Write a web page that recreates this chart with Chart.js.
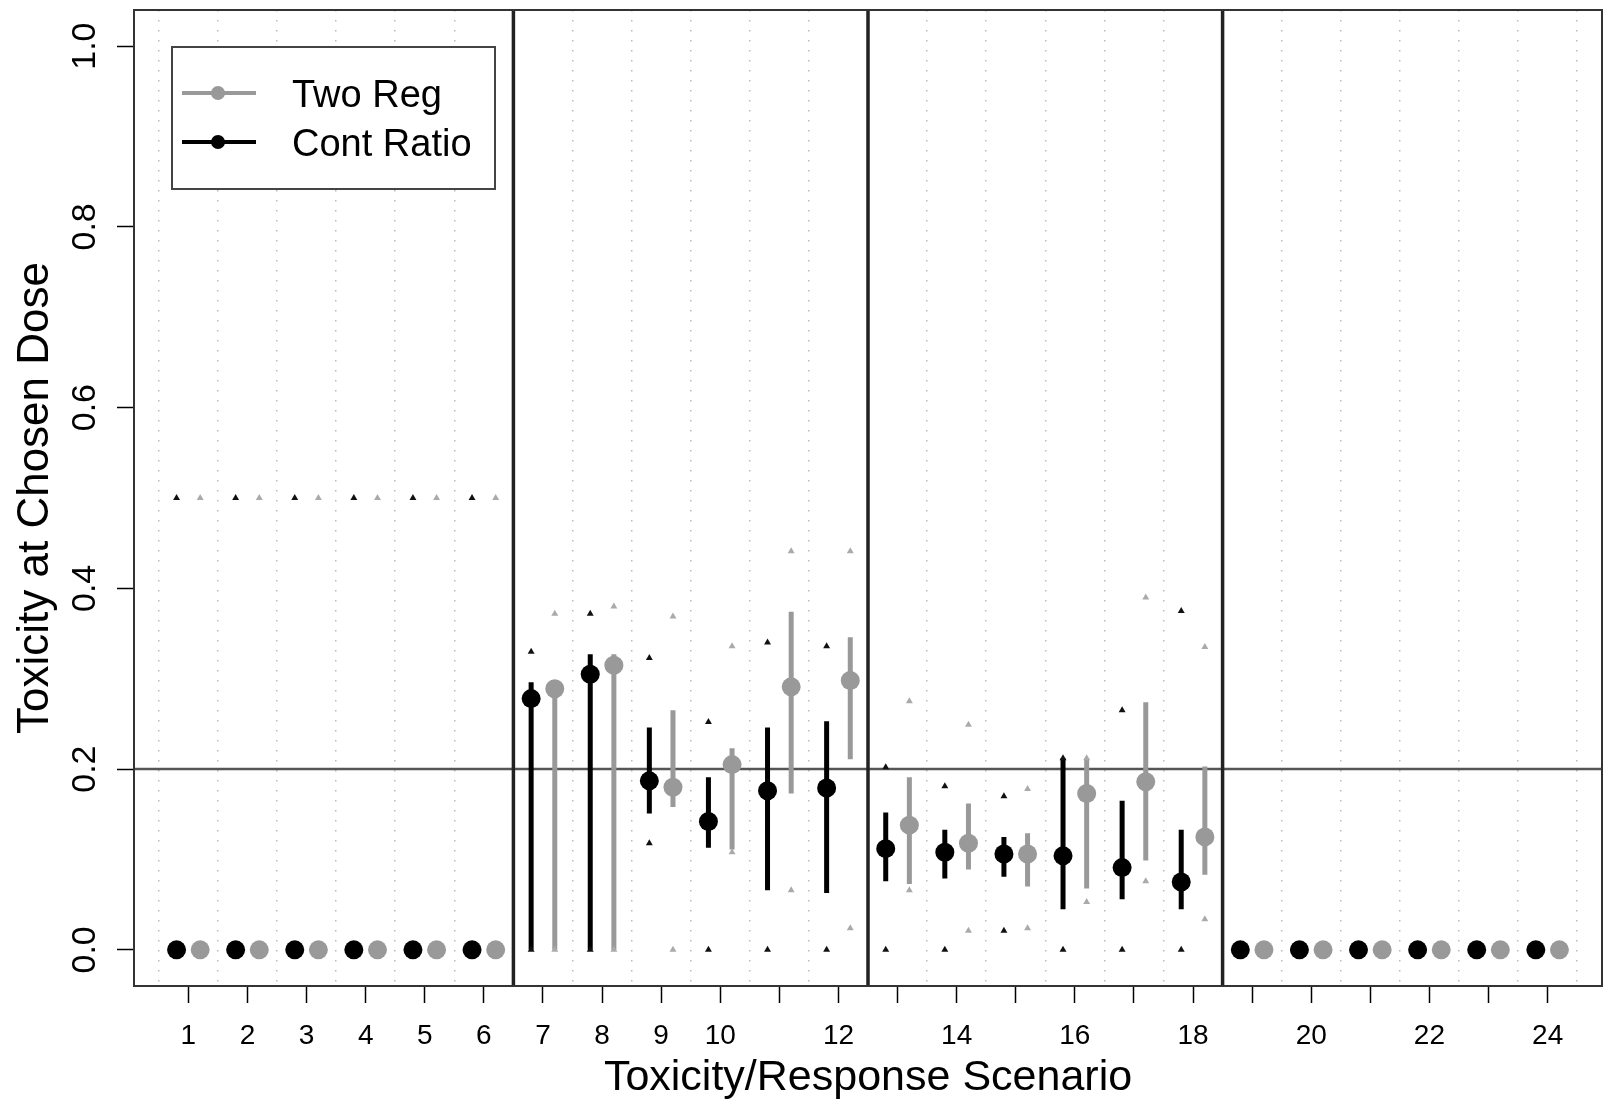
<!DOCTYPE html>
<html>
<head>
<meta charset="utf-8">
<script src="https://cdn.jsdelivr.net/npm/chart.js@4.4.0/dist/chart.umd.min.js"></script>
<style>
  html, body { margin: 0; padding: 0; background: #fff; overflow: hidden; }
  #wrap { width: 1605px; height: 1104px; }
  #chart { display: block; }
</style>
</head>
<body>
<div id="wrap"><canvas id="chart" width="1605" height="1104"></canvas></div>
<script>
// scenarios on the x axis, and which of them get a printed label
const scenarios = [1, 2, 3, 4, 5, 6, 7, 8, 9, 10, 11, 12, 13, 14, 15, 16, 17, 18, 19, 20, 21, 22, 23, 24];
const labelledTicks = [1, 2, 3, 4, 5, 6, 7, 8, 9, 10, 12, 14, 16, 18, 20, 22, 24];
const yTicks = [0, 0.2, 0.4, 0.6, 0.8, 1.0];
const groupBreaks = [6.5, 12.5, 18.5];
const targetTox = 0.2;
const seriesNames = ['Two Reg', 'Cont Ratio'];

// Cont Ratio (black): median, bar low/high, extreme low/high
const crMed  = [0, 0, 0, 0, 0, 0, 0.278, 0.305, 0.187, 0.142, 0.176, 0.179, 0.112, 0.108, 0.106, 0.104, 0.091, 0.075, 0, 0, 0, 0, 0, 0];
const crLow  = [0, 0, 0, 0, 0, 0, 0, 0, 0.151, 0.113, 0.066, 0.063, 0.076, 0.079, 0.081, 0.045, 0.056, 0.045, 0, 0, 0, 0, 0, 0];
const crHigh = [0, 0, 0, 0, 0, 0, 0.296, 0.327, 0.246, 0.191, 0.246, 0.253, 0.152, 0.133, 0.125, 0.212, 0.165, 0.133, 0, 0, 0, 0, 0, 0];
const crMin  = [0, 0, 0, 0, 0, 0, 0, 0, 0.118, 0, 0, 0, 0, 0, 0.021, 0, 0, 0, 0, 0, 0, 0, 0, 0];
const crMax  = [0.5, 0.5, 0.5, 0.5, 0.5, 0.5, 0.330, 0.372, 0.323, 0.252, 0.340, 0.336, 0.202, 0.181, 0.170, 0.212, 0.265, 0.375, 0, 0, 0, 0, 0, 0];

// Two Reg (gray)
const trMed  = [0, 0, 0, 0, 0, 0, 0.289, 0.315, 0.180, 0.205, 0.291, 0.298, 0.138, 0.118, 0.106, 0.173, 0.186, 0.125, 0, 0, 0, 0, 0, 0];
const trLow  = [0, 0, 0, 0, 0, 0, 0, 0, 0.158, 0.111, 0.173, 0.211, 0.073, 0.089, 0.070, 0.068, 0.099, 0.083, 0, 0, 0, 0, 0, 0];
const trHigh = [0, 0, 0, 0, 0, 0, 0.296, 0.327, 0.265, 0.223, 0.374, 0.346, 0.191, 0.162, 0.129, 0.212, 0.274, 0.203, 0, 0, 0, 0, 0, 0];
const trMin  = [0, 0, 0, 0, 0, 0, 0, 0, 0, 0.108, 0.066, 0.024, 0.066, 0.021, 0.024, 0.053, 0.076, 0.034, 0, 0, 0, 0, 0, 0];
const trMax  = [0.5, 0.5, 0.5, 0.5, 0.5, 0.5, 0.372, 0.380, 0.369, 0.336, 0.441, 0.441, 0.275, 0.249, 0.178, 0.212, 0.390, 0.335, 0, 0, 0, 0, 0, 0];

const xMin = 0.08, xMax = 24.92, yMin = -0.04, yMax = 1.04;
const shift = 0.2;
const FONT = 'Liberation Sans, Arial, Helvetica, sans-serif';
const GRAY = '#999999';
const BLACK = '#000000';

function points(dx, vals) {
    return scenarios.map((s, i) => ({ x: s + dx, y: vals[i] }));
}

function bars(dx, lo, hi) {
    return scenarios.flatMap((s, i) => [
        { x: s + dx, y: lo[i] },
        { x: s + dx, y: hi[i] },
        { x: s + dx, y: null }
    ]);
}

function tris(dx, lo, hi) {
    return points(dx, lo).concat(points(dx, hi));
}

function noPad(s) {
    s.paddingLeft = 0; s.paddingRight = 0; s.paddingTop = 0; s.paddingBottom = 0;
}

const refLines = groupBreaks.flatMap(b => [{ x: b, y: yMin }, { x: b, y: yMax }, { x: b, y: null }]);

const frame = {
    id: 'frame',
    afterDatasetsDraw(chart) {
        const { ctx, chartArea: a } = chart;
        ctx.save();
        ctx.strokeStyle = '#333';
        ctx.lineWidth = 2;
        ctx.strokeRect(a.left, a.top, a.right - a.left, a.bottom - a.top);

        // legend box, top left inside the plot
        const lx = a.left + 38, ly = a.top + 37, lw = 323, lh = 142;
        ctx.fillStyle = '#fff';
        ctx.fillRect(lx, ly, lw, lh);
        ctx.strokeStyle = '#444';
        ctx.strokeRect(lx, ly, lw, lh);
        const colors = [GRAY, BLACK];
        seriesNames.forEach((name, i) => {
            const ry = ly + 46 + i * 49;
            ctx.strokeStyle = colors[i];
            ctx.lineWidth = 4;
            ctx.beginPath();
            ctx.moveTo(lx + 10, ry);
            ctx.lineTo(lx + 84, ry);
            ctx.stroke();
            ctx.fillStyle = colors[i];
            ctx.beginPath();
            ctx.arc(lx + 46, ry, 7, 0, Math.PI * 2);
            ctx.fill();
            ctx.fillStyle = '#000';
            ctx.font = '38px ' + FONT;
            ctx.textBaseline = 'middle';
            ctx.textAlign = 'left';
            ctx.fillText(name, lx + 120, ry + 4);
        });
        ctx.restore();
    }
};

new Chart(document.getElementById('chart'), {
    type: 'scatter',
    data: {
        datasets: [
            { data: points(-shift, crMed), backgroundColor: BLACK, pointRadius: 9.5, pointBorderWidth: 0, order: 0 },
            { data: points(shift, trMed), backgroundColor: GRAY, pointRadius: 9.5, pointBorderWidth: 0, order: 1 },
            { data: tris(-shift, crMin, crMax), pointStyle: 'triangle', backgroundColor: '#111', pointRadius: 4, pointBorderWidth: 0, order: 2 },
            { data: tris(shift, trMin, trMax), pointStyle: 'triangle', backgroundColor: '#aaa', pointRadius: 4, pointBorderWidth: 0, order: 2 },
            { data: bars(-shift, crLow, crHigh), showLine: true, spanGaps: false, borderColor: BLACK, borderWidth: 5, pointRadius: 0, order: 3 },
            { data: bars(shift, trLow, trHigh), showLine: true, spanGaps: false, borderColor: GRAY, borderWidth: 5, pointRadius: 0, order: 3 },
            { data: refLines, showLine: true, spanGaps: false, borderColor: '#222', borderWidth: 3.5, pointRadius: 0, order: 5 },
            { data: [{ x: xMin, y: targetTox }, { x: xMax, y: targetTox }], showLine: true, borderColor: '#555', borderWidth: 2.5, pointRadius: 0, order: 6 }
        ]
    },
    options: {
        responsive: false,
        animation: false,
        devicePixelRatio: 1,
        layout: { autoPadding: false, padding: { top: 10, right: 3, left: 0, bottom: 0 } },
        plugins: { legend: { display: false }, tooltip: { enabled: false } },
        scales: {
            x: {
                type: 'linear', position: 'bottom', min: xMin, max: xMax,
                afterBuildTicks: s => { s.ticks = scenarios.map(v => ({ value: v })); },
                afterFit: s => { s.height = 118; noPad(s); },
                ticks: {
                    autoSkip: false, maxRotation: 0, padding: 16, color: '#000',
                    font: { family: FONT, size: 28 },
                    callback: v => labelledTicks.includes(v) ? String(v) : ''
                },
                grid: { drawOnChartArea: false, drawTicks: true, tickLength: 17, tickColor: '#000', tickWidth: 1.5 },
                border: { display: true, color: '#333', width: 2 },
                title: {
                    display: true, text: 'Toxicity/Response Scenario', color: '#000',
                    font: { family: FONT, size: 43 }, padding: { top: 0, bottom: 0 }
                }
            },
            xg: {
                type: 'linear', position: 'bottom', min: xMin, max: xMax,
                afterBuildTicks: s => { s.ticks = scenarios.map(v => ({ value: v - 0.5 })).concat([{ value: 24.5 }]); },
                afterFit: s => { s.height = 0; noPad(s); },
                ticks: { display: false },
                grid: { drawTicks: false, color: '#bbb', lineWidth: 1.5 },
                border: { display: false, dash: [1.5, 8.5] }
            },
            y: {
                min: yMin, max: yMax,
                afterBuildTicks: s => { s.ticks = yTicks.map(v => ({ value: v })); },
                afterFit: s => { s.width = 134; noPad(s); },
                ticks: {
                    minRotation: 90, maxRotation: 90, crossAlign: 'center', padding: 8, color: '#000',
                    font: { family: FONT, size: 34 },
                    callback: v => v.toFixed(1)
                },
                grid: { drawOnChartArea: false, drawTicks: true, tickLength: 17, tickColor: '#000', tickWidth: 1.5 },
                border: { display: true, color: '#333', width: 2 },
                title: {
                    display: true, text: 'Toxicity at Chosen Dose', color: '#000',
                    font: { family: FONT, size: 44 }, padding: { top: 9, bottom: 0 }
                }
            }
        }
    },
    plugins: [frame]
});
</script>
</body>
</html>
